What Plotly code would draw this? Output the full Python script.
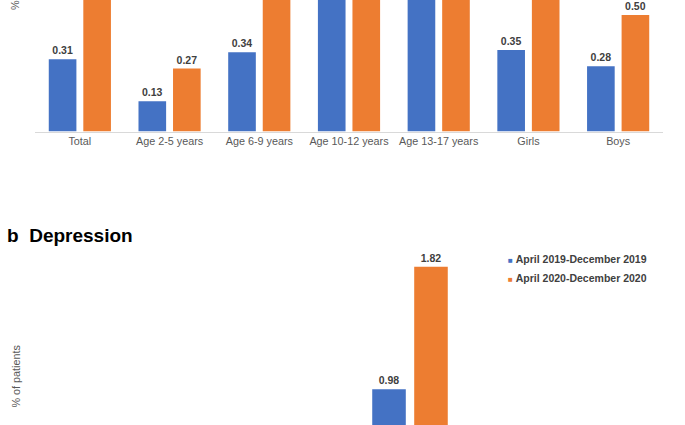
import plotly.graph_objects as go

# ---- Panel a (top, clipped) ----
cats_a = ["Total", "Age 2-5 years", "Age 6-9 years", "Age 10-12 years",
          "Age 13-17 years", "Girls", "Boys"]
a_2019 = [0.31, 0.13, 0.34, 0.72, 0.95, 0.35, 0.28]
a_2020 = [0.68, 0.27, 0.74, 1.10, 1.45, 0.86, 0.50]

# ---- Panel b: Depression (bottom, clipped) ----
cats_b = ["Total", "Age 6-9 years", "Age 10-12 years", "Age 13-17 years",
          "Girls", "Boys"]
b_2019 = [0.38, 0.05, 0.30, 0.98, 0.45, 0.30]
b_2020 = [0.62, 0.09, 0.55, 1.82, 0.65, 0.45]

series_names = ["April 2019-December 2019", "April 2020-December 2020"]
colors = ["#4472C4", "#ED7D31"]

W, H = 685, 425
FONT = "Liberation Sans, Arial, sans-serif"
label_font = dict(family=FONT, size=10.5, color="#404040", weight="bold")

fig = go.Figure()
for vals, name, col in zip([a_2019, a_2020], series_names, colors):
    fig.add_trace(go.Bar(x=cats_a, y=vals, name=name, marker_color=col,
                         marker_line_width=0, texttemplate="%{y:.2f}",
                         textposition="outside", textfont=label_font,
                         cliponaxis=True, showlegend=False,
                         xaxis="x", yaxis="y"))
for vals, name, col in zip([b_2019, b_2020], series_names, colors):
    fig.add_trace(go.Bar(x=cats_b, y=vals, name=name, marker_color=col,
                         marker_line_width=0, texttemplate="%{y:.2f}",
                         textposition="outside", textfont=label_font,
                         cliponaxis=True, showlegend=False,
                         xaxis="x2", yaxis="y2"))

tick_font = dict(family=FONT, size=10.8, color="#595959")

base_a = 131.5
scale_a = 233.0
base_b = 532.4
scale_b = 146.0
top_b = 248.0

fig.update_layout(
    width=W, height=H,
    margin=dict(l=0, r=0, t=0, b=0),
    paper_bgcolor="white", plot_bgcolor="white",
    barmode="group", bargap=0.23, bargroupgap=0.2,
    hovermode=False,
    xaxis=dict(domain=[35 / W, 663 / W], anchor="y", showline=True,
               linecolor="#D9D9D9", linewidth=1, ticks="", tickfont=tick_font,
               showgrid=False, zeroline=False),
    yaxis=dict(domain=[1 - base_a / H, 1], anchor="x",
               range=[0, base_a / scale_a], showticklabels=False,
               showgrid=False, zeroline=False, showline=False),
    xaxis2=dict(domain=[28.5 / W, 682.5 / W], anchor="y2", showline=False,
                showticklabels=False, ticks="", showgrid=False, zeroline=False),
    yaxis2=dict(domain=[0, (H - top_b) / H], anchor="x2",
                range=[(base_b - H) / scale_b, (base_b - top_b) / scale_b],
                showticklabels=False, showgrid=False, zeroline=False,
                showline=False),
)

ann = []
# y-axis titles
ann.append(dict(text="% of patients", textangle=-90, xref="paper", yref="paper",
                x=15 / W, y=1 - 12.5 / H, xanchor="center", yanchor="bottom",
                showarrow=False, font=dict(family=FONT, size=10.8, color="#595959")))
ann.append(dict(text="% of patients", textangle=-90, xref="paper", yref="paper",
                x=15 / W, y=1 - 376.5 / H, xanchor="center", yanchor="middle",
                showarrow=False, font=dict(family=FONT, size=10.8, color="#595959")))
# panel title
ann.append(dict(text="b\u00a0\u00a0Depression", xref="paper", yref="paper",
                x=5 / W, y=1 - 235.5 / H, xanchor="left", yanchor="middle",
                showarrow=False, font=dict(family=FONT, size=19, color="#000000",
                                           weight="bold")))
# legend
for i, (name, col) in enumerate(zip(series_names, colors)):
    ann.append(dict(text=f'<span style="color:{col};font-size:8px">■</span>\u00a0{name}',
                    xref="paper", yref="paper", x=506 / W,
                    y=1 - (258.5 + 19 * i) / H, xanchor="left", yanchor="middle",
                    showarrow=False,
                    font=dict(family=FONT, size=10.5, color="#404040", weight="bold")))
fig.update_layout(annotations=ann)

fig.write_html("out.html", config={"displayModeBar": False},
               post_script="document.body.style.margin='0';document.body.style.overflow='hidden';")
